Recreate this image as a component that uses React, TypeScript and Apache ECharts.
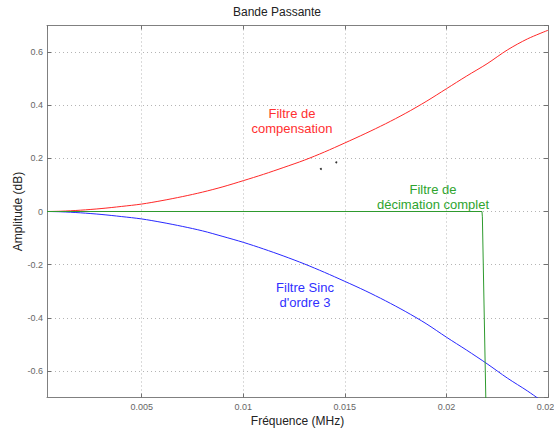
import React, { useEffect, useRef } from "react";
import * as echarts from "echarts";

// Frequency (MHz)
const freq = [0.00034, 0.001, 0.002, 0.003, 0.004, 0.005, 0.006, 0.007, 0.008, 0.009, 0.010, 0.011, 0.012, 0.013, 0.014, 0.015, 0.016, 0.017, 0.018, 0.019, 0.020, 0.021, 0.022, 0.023, 0.024, 0.025];
// Filtre de compensation (dB)
const compensation = [0, 0.001, 0.005, 0.011, 0.019, 0.028, 0.041, 0.056, 0.073, 0.093, 0.116, 0.14, 0.166, 0.193, 0.224, 0.258, 0.293, 0.33, 0.37, 0.414, 0.462, 0.51, 0.556, 0.608, 0.65, 0.682];
// Filtre Sinc d'ordre 3 (dB)
const sinc3 = [0, -0.001, -0.005, -0.011, -0.019, -0.028, -0.041, -0.056, -0.073, -0.094, -0.116, -0.141, -0.168, -0.197, -0.229, -0.263, -0.298, -0.336, -0.377, -0.422, -0.473, -0.522, -0.573, -0.627, -0.676, -0.73];
// Filtre de décimation complet
const decimFreq = [0.00034, 0.02175, 0.02177, 0.02195];
const decimAmp = [0, 0, -0.02, -0.75];
// stray points
const dotsFreq = [0.01382, 0.01458];
const dotsAmp = [0.16, 0.185];

const xMin = 0.00034;
const xMax = 0.025;
const yMin = -0.7;
const yMax = 0.7;

const FONT = "Liberation Sans, Arial, sans-serif";

export default function App() {
  const ref = useRef<HTMLDivElement>(null);
  useEffect(() => {
    if (!ref.current) return;
    const chart = echarts.init(ref.current, null, { renderer: "svg" });
    const gridLine = { show: true, lineStyle: { color: "#b4b4b4", type: [1, 3], width: 1 } };
    const axisLine = { show: true, onZero: false, lineStyle: { color: "#808080", width: 1 } };
    const axisTick = { show: true, inside: true, length: 4, lineStyle: { color: "#707070" } };
    const label = { color: "#666", fontSize: 9, fontFamily: FONT };
    chart.setOption({
      animation: false,
      backgroundColor: "#ffffff",
      title: {
        text: "Bande Passante",
        left: "center",
        top: 6,
        padding: 0,
        textStyle: { fontSize: 12, fontWeight: "normal", color: "#222", fontFamily: FONT },
      },
      grid: { left: 47, right: 6, top: 25.5, bottom: 31.5, containLabel: false, outerBoundsMode: "none" },
      xAxis: [
        {
          type: "value",
          min: xMin,
          max: xMax,
          minInterval: 0.005,
          maxInterval: 0.005,
          position: "bottom",
          name: "Fréquence (MHz)",
          nameLocation: "middle",
          nameGap: 17,
          nameMoveOverlap: false,
          nameTextStyle: { fontSize: 12, color: "#222", fontFamily: FONT },
          axisLine,
          axisTick,
          splitLine: gridLine,
          axisLabel: { ...label, margin: 5, showMinLabel: false, hideOverlap: false },
        },
        {
          type: "value",
          min: xMin,
          max: xMax,
          minInterval: 0.005,
          maxInterval: 0.005,
          position: "top",
          axisLine,
          axisTick,
          splitLine: { show: false },
          axisLabel: { show: false },
        },
      ],
      yAxis: [
        {
          type: "value",
          min: yMin,
          max: yMax,
          minInterval: 0.2,
          maxInterval: 0.2,
          position: "left",
          name: "Amplitude (dB)",
          nameLocation: "middle",
          nameGap: 23,
          nameMoveOverlap: false,
          nameTextStyle: { fontSize: 12, color: "#222", fontFamily: FONT },
          axisLine,
          axisTick,
          splitLine: gridLine,
          axisLabel: { ...label, margin: 4, showMinLabel: false, showMaxLabel: false },
        },
        {
          type: "value",
          min: yMin,
          max: yMax,
          minInterval: 0.2,
          maxInterval: 0.2,
          position: "right",
          axisLine,
          axisTick,
          splitLine: { show: false },
          axisLabel: { show: false },
        },
      ],
      series: [
        {
          type: "line",
          name: "Filtre Sinc d'ordre 3",
          data: freq.map((f, i) => [f, sinc3[i]]),
          showSymbol: false,
          smooth: 0.3,
          lineStyle: { color: "#2828ff", width: 1 },
          itemStyle: { color: "#2828ff" },
        },
        {
          type: "line",
          name: "Filtre de compensation",
          data: freq.map((f, i) => [f, compensation[i]]),
          showSymbol: false,
          smooth: 0.3,
          lineStyle: { color: "#ff2828", width: 1 },
          itemStyle: { color: "#ff2828" },
        },
        {
          type: "line",
          name: "Filtre de décimation complet",
          data: decimFreq.map((f, i) => [f, decimAmp[i]]),
          showSymbol: false,
          lineStyle: { color: "#2e9a2e", width: 1 },
          itemStyle: { color: "#2e9a2e" },
        },
        {
          type: "scatter",
          data: dotsFreq.map((f, i) => [f, dotsAmp[i]]),
          symbolSize: 2,
          itemStyle: { color: "#000" },
        },
      ],
      graphic: [
        {
          type: "text",
          x: 292,
          y: 120.5,
          style: {
            text: "Filtre de\ncompensation",
            align: "center",
            verticalAlign: "middle",
            fill: "#ff3030",
            fontSize: 13,
            lineHeight: 15,
            fontFamily: FONT,
          },
        },
        {
          type: "text",
          x: 433,
          y: 196.5,
          style: {
            text: "Filtre de\ndécimation complet",
            align: "center",
            verticalAlign: "middle",
            fill: "#2ea42e",
            fontSize: 13,
            lineHeight: 15,
            fontFamily: FONT,
          },
        },
        {
          type: "text",
          x: 305,
          y: 295,
          style: {
            text: "Filtre Sinc\nd'ordre 3",
            align: "center",
            verticalAlign: "middle",
            fill: "#3030ff",
            fontSize: 13,
            lineHeight: 15,
            fontFamily: FONT,
          },
        },
      ],
    });
    return () => chart.dispose();
  }, []);
  return (
    <div
      ref={ref}
      style={{ position: "absolute", left: 0, top: 0, width: 554, height: 429 }}
    />
  );
}
